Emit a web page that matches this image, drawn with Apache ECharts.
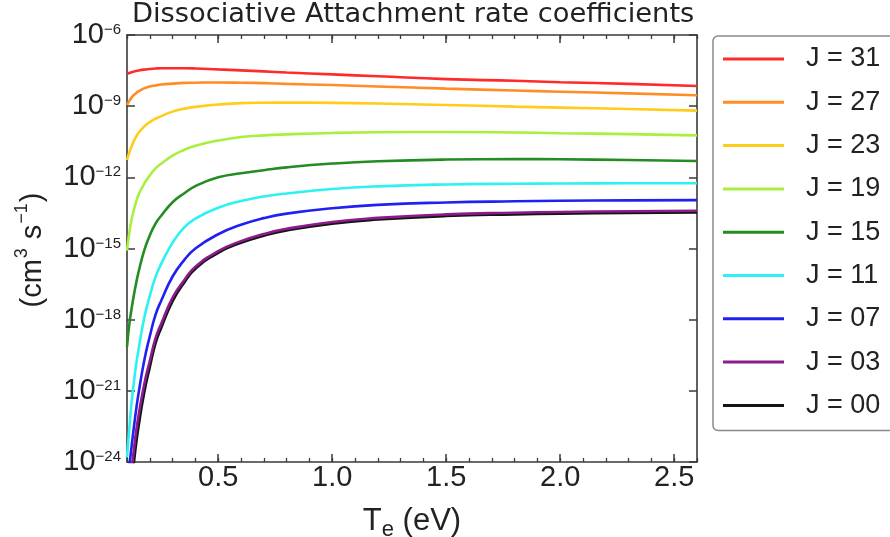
<!DOCTYPE html>
<html>
<head>
<meta charset="utf-8">
<script src="https://cdn.jsdelivr.net/npm/echarts@6/dist/echarts.min.js"></script>
<style>
html,body{margin:0;padding:0;background:#ffffff;}
#chart{width:890px;height:537px;}
</style>
</head>
<body>
<div id="chart"></div>
<script>
// Electron temperature Te (eV)
const Te = [0.1,0.11,0.12,0.13,0.14,0.15,0.175,0.2,0.225,0.25,0.3,0.35,0.4,0.5,0.6,0.7,0.8,1.0,1.2,1.5,1.8,2.0,2.3,2.6];

// log10 of rate coefficient (cm^3 s^-1)
const J31 = [-7.64,-7.60,-7.57,-7.54,-7.52,-7.50,-7.46,-7.43,-7.415,-7.40,-7.40,-7.40,-7.41,-7.45,-7.49,-7.535,-7.58,-7.66,-7.74,-7.86,-7.93,-7.99,-8.06,-8.15];
const J27 = [-8.95,-8.78,-8.64,-8.53,-8.45,-8.38,-8.25,-8.17,-8.125,-8.09,-8.05,-8.02,-8.01,-8.00,-8.01,-8.03,-8.06,-8.11,-8.17,-8.26,-8.34,-8.39,-8.46,-8.54];
const J23 = [-11.27,-10.95,-10.70,-10.47,-10.28,-10.13,-9.86,-9.67,-9.53,-9.42,-9.23,-9.11,-9.03,-8.93,-8.87,-8.855,-8.85,-8.86,-8.89,-8.95,-9.02,-9.06,-9.12,-9.19];
const J19 = [-15.09,-14.34,-13.79,-13.37,-13.03,-12.75,-12.275,-11.925,-11.625,-11.425,-11.085,-10.845,-10.67,-10.45,-10.3,-10.23,-10.19,-10.13,-10.10,-10.09,-10.11,-10.14,-10.18,-10.23];
const J15 = [-19.15,-18.2,-17.55,-16.97,-16.47,-16.02,-15.1,-14.45,-13.95,-13.62,-13.05,-12.68,-12.37,-12.0,-11.83,-11.7,-11.58,-11.42,-11.32,-11.25,-11.23,-11.24,-11.27,-11.31];
const J11 = [-23.8,-22.6,-21.5,-20.65,-19.9,-19.3,-17.95,-17.0,-16.2,-15.65,-14.75,-14.12,-13.74,-13.28,-13.0,-12.81,-12.68,-12.49,-12.38,-12.3,-12.27,-12.26,-12.25,-12.25];
const J07 = [-25.1,-24.2,-23.35,-22.55,-21.8,-21.15,-19.75,-18.7,-17.8,-17.2,-16.18,-15.5,-15.0,-14.4,-14.0,-13.72,-13.53,-13.3,-13.16,-13.06,-13.01,-12.99,-12.97,-12.96];
const J03 = [-26.05,-25.2,-24.35,-23.5,-22.72,-22.08,-20.75,-19.74,-18.79,-18.17,-17.07,-16.35,-15.77,-15.11,-14.69,-14.39,-14.17,-13.88,-13.71,-13.56,-13.49,-13.46,-13.43,-13.41];
const J00 = [-26.6,-25.75,-24.9,-24.05,-23.25,-22.55,-21.1,-20.0,-19.0,-18.35,-17.22,-16.45,-15.85,-15.18,-14.76,-14.46,-14.24,-13.95,-13.78,-13.63,-13.56,-13.53,-13.5,-13.48];

const seriesNames = ['J = 31','J = 27','J = 23','J = 19','J = 15','J = 11','J = 07','J = 03','J = 00'];
const seriesValues = [J31,J27,J23,J19,J15,J11,J07,J03,J00];
const seriesColors = ['#ff2a2a','#ff8c26','#ffcc1a','#a8f040','#238c23','#2ef2f2','#2020f0','#8c1c8c','#141414'];
const seriesZ = [2,2,2,2,2,2,2,4,3];

const xMajorTicks = [0.5,1.0,1.5,2.0,2.5];

const frame = '#3a3a3a';
const textColor = '#222222';
const sans = 'Liberation Sans, Arial, Helvetica, sans-serif';

const series = seriesNames.map((name, i) => ({
  name: name,
  type: 'line',
  xAxisIndex: 0,
  yAxisIndex: 0,
  data: Te.map((x, k) => [x, seriesValues[i][k]]),
  smooth: 0.5,
  showSymbol: false,
  symbol: 'none',
  clip: true,
  z: seriesZ[i],
  lineStyle: { color: seriesColors[i], width: 2.6 },
  itemStyle: { color: seriesColors[i] }
}));

const isMajor = v => xMajorTicks.some(t => Math.abs(t - v) < 1e-6);

const option = {
  animation: false,
  backgroundColor: '#ffffff',
  title: {
    text: 'Dissociative Attachment rate coefficients',
    left: 132,
    top: 0,
    padding: 0,
    textStyle: {
      fontFamily: 'DejaVu Sans, sans-serif',
      fontSize: 27.3,
      lineHeight: 30,
      fontWeight: 'normal',
      color: textColor
    }
  },
  grid: {
    left: 127, right: 193, top: 35, bottom: 75,
    containLabel: false,
    outerBoundsMode: 'none'
  },
  legend: {
    orient: 'vertical',
    left: 713,
    top: 36,
    padding: [8, 30, 10, 10],
    itemWidth: 61,
    itemHeight: 3,
    itemGap: 13.3,
    icon: 'rect',
    selectedMode: false,
    borderColor: '#8a8a8a',
    borderWidth: 1.5,
    borderRadius: 5,
    data: seriesNames,
    textStyle: {
      fontFamily: sans,
      fontSize: 27,
      lineHeight: 30,
      color: textColor,
      padding: [0, 0, 0, 17]
    }
  },
  xAxis: [
    {
      type: 'value', position: 'bottom', min: 0.1, max: 2.6, interval: 0.1,
      axisLine: { show: true, onZero: false, lineStyle: { color: frame, width: 1.6 } },
      axisTick: { show: true, inside: true, length: 4, lineStyle: { color: frame, width: 1.3 } },
      axisLabel: {
        show: true, margin: 1,
        fontFamily: sans, fontSize: 29, color: textColor,
        formatter: v => isMajor(v) ? v.toFixed(1) : ''
      },
      splitLine: { show: false },
      name: '{b|T}{sub|e}{b| (eV)}',
      nameLocation: 'middle',
      nameGap: 44,
      nameTextStyle: {
        color: textColor,
        rich: {
          b: { fontFamily: sans, fontSize: 31, lineHeight: 31, color: textColor },
          sub: { fontFamily: sans, fontSize: 22, lineHeight: 22, color: textColor, padding: [17, 0, 0, 0] }
        }
      }
    },
    {
      type: 'value', position: 'bottom', min: 0.1, max: 2.6,
      axisLine: { show: false, onZero: false },
      axisTick: { show: true, inside: true, length: 8, customValues: xMajorTicks, lineStyle: { color: frame, width: 1.5 } },
      axisLabel: { show: false },
      splitLine: { show: false }
    },
    {
      type: 'value', position: 'top', min: 0.1, max: 2.6, interval: 0.1,
      axisLine: { show: true, onZero: false, lineStyle: { color: frame, width: 1.6 } },
      axisTick: { show: true, inside: true, length: 4, lineStyle: { color: frame, width: 1.3 } },
      axisLabel: { show: false },
      splitLine: { show: false }
    },
    {
      type: 'value', position: 'top', min: 0.1, max: 2.6,
      axisLine: { show: false, onZero: false },
      axisTick: { show: true, inside: true, length: 8, customValues: xMajorTicks, lineStyle: { color: frame, width: 1.5 } },
      axisLabel: { show: false },
      splitLine: { show: false }
    }
  ],
  yAxis: [
    {
      type: 'value', position: 'left', min: -24, max: -6, interval: 3,
      axisLine: { show: true, onZero: false, lineStyle: { color: frame, width: 1.6 } },
      axisTick: { show: true, inside: true, length: 8, lineStyle: { color: frame, width: 1.5 } },
      axisLabel: {
        show: true, margin: 6,
        formatter: v => '{b|10}{s|\u2212' + Math.abs(v) + '}',
        rich: {
          b: { fontFamily: sans, fontSize: 29, lineHeight: 29, color: textColor },
          s: { fontFamily: sans, fontSize: 15, lineHeight: 15, color: textColor, padding: [0, 0, 10, 0] }
        }
      },
      splitLine: { show: false }
    },
    {
      type: 'value', position: 'right', min: -24, max: -6, interval: 3,
      axisLine: { show: true, onZero: false, lineStyle: { color: frame, width: 1.6 } },
      axisTick: { show: true, inside: true, length: 8, lineStyle: { color: frame, width: 1.5 } },
      axisLabel: { show: false },
      splitLine: { show: false }
    }
  ],
  graphic: [
    {
      type: 'text',
      x: 33,
      y: 250,
      rotation: Math.PI / 2,
      style: {
        text: '{b|(cm}{s|3}{b| s}{s|\u22121}{b|)}',
        align: 'center',
        verticalAlign: 'middle',
        fill: textColor,
        rich: {
          b: { fontFamily: sans, fontSize: 29, lineHeight: 29, fill: textColor, color: textColor },
          s: { fontFamily: sans, fontSize: 18, lineHeight: 18, fill: textColor, color: textColor, padding: [0, 1, 22, 1] }
        }
      }
    }
  ],
  series: series
};

const chart = echarts.init(document.getElementById('chart'), null, { renderer: 'canvas' });
chart.setOption(option);
</script>
</body>
</html>
